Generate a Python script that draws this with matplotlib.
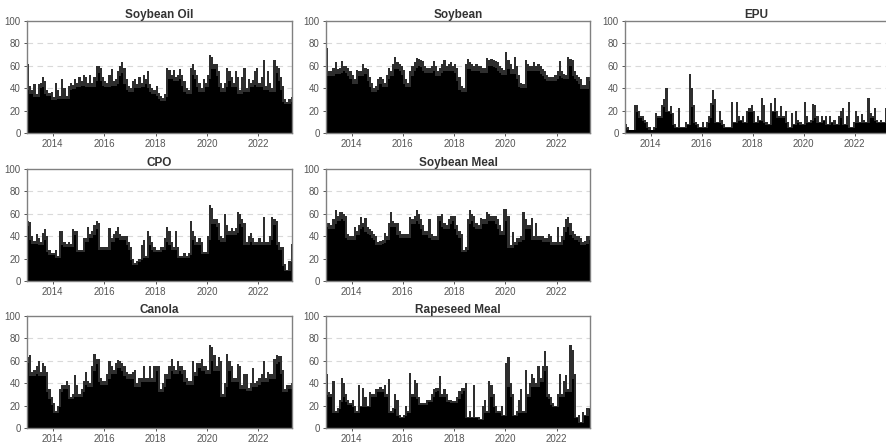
#!/usr/bin/env python3
"""Seven-panel filled time series, monthly index values 2013-2023."""

import matplotlib
matplotlib.use("Agg")
import matplotlib.pyplot as plt
import numpy as np

plt.rcParams["font.family"] = ["Liberation Sans", "DejaVu Sans"]

START_YEAR = 2013

soybean_oil = [
    62, 42, 38, 44, 35, 44, 45, 50, 46, 38, 36, 37,
    32, 45, 38, 33, 48, 40, 33, 42, 45, 43, 48, 45,
    50, 46, 52, 50, 45, 52, 45, 50, 60, 60, 58, 50,
    46, 45, 52, 57, 46, 48, 55, 60, 63, 58, 48, 42,
    40, 46, 48, 44, 50, 45, 52, 48, 55, 44, 40, 38,
    42, 36, 33, 31, 35, 58, 56, 52, 56, 50, 52, 57,
    52, 46, 40, 38, 58, 62, 56, 52, 45, 40, 48, 45,
    52, 70, 68, 62, 62, 55, 45, 40, 45, 58, 55, 50,
    45, 55, 50, 38, 50, 58, 40, 48, 45, 47, 55, 58,
    45, 50, 65, 42, 55, 45, 40, 65, 60, 58, 50, 42,
    30, 28, 30, 32,
]
soybean = [
    76, 55, 55, 58, 63, 57, 58, 64, 60, 60, 58, 55,
    52, 48, 56, 55, 55, 62, 58, 57, 50, 45, 40, 42,
    48, 50, 48, 45, 52, 58, 55, 62, 68, 63, 62, 60,
    56, 48, 45, 55, 60, 63, 67, 66, 65, 64, 60, 58,
    58, 60, 64, 60, 55, 58, 62, 65, 60, 62, 63, 60,
    62, 58, 50, 42, 40, 62, 66, 63, 62, 60, 62, 60,
    60, 58, 58, 67, 65, 66, 65, 64, 63, 60, 58, 56,
    72, 65, 62, 57, 68, 60, 52, 45, 44, 65, 62, 60,
    60, 63, 60, 62, 60, 57, 55, 52, 50, 50, 50, 52,
    55, 64, 55, 53, 52, 68, 66, 65, 55, 52, 50, 48,
    43, 43, 50, 50,
]
epu = [
    8, 5, 3, 3, 25, 25, 20, 15, 15, 12, 10, 5,
    3, 5, 18, 15, 15, 25, 30, 40, 20, 24, 18, 8,
    5, 22, 5, 5, 10, 8, 53, 40, 25, 10, 8, 5,
    10, 5, 10, 15, 27, 38, 30, 10, 20, 12, 8, 5,
    5, 5, 28, 10, 28, 15, 12, 15, 10, 20, 22, 25,
    20, 10, 15, 12, 31, 25, 10, 8, 27, 20, 31, 20,
    15, 24, 15, 20, 10, 5, 18, 8, 20, 12, 10, 8,
    28, 15, 10, 12, 26, 25, 15, 10, 15, 12, 15, 8,
    15, 10, 12, 8, 15, 20, 22, 8, 15, 28, 5, 10,
    20, 15, 10, 17, 12, 10, 31, 18, 15, 22, 12, 10,
    12, 10, 22, 12,
]
cpo = [
    54, 53, 40, 36, 42, 38, 35, 43, 46, 40, 28, 25,
    25, 28, 22, 45, 45, 35, 33, 35, 33, 46, 45, 45,
    28, 28, 38, 38, 48, 42, 45, 50, 54, 52, 30, 30,
    30, 30, 47, 38, 42, 45, 48, 42, 40, 40, 40, 35,
    30, 20, 16, 18, 20, 32, 37, 22, 45, 40, 35, 30,
    28, 28, 30, 30, 38, 48, 45, 35, 30, 45, 30, 22,
    22, 25, 22, 25, 54, 45, 40, 35, 38, 35, 26, 26,
    40, 68, 65, 55, 55, 52, 40, 38, 60, 50, 45, 47,
    45, 47, 62, 60, 55, 52, 35, 40, 43, 38, 35, 35,
    38, 35, 57, 35, 35, 40, 57, 55, 54, 35, 30, 30,
    15, 10, 18, 33,
]
soybean_meal = [
    52, 52, 50, 55, 63, 58, 62, 62, 60, 58, 42, 40,
    40, 48, 45, 50, 57, 52, 56, 48, 46, 45, 42, 40,
    35, 36, 37, 43, 40, 52, 62, 54, 52, 52, 45, 42,
    42, 42, 42, 57, 55, 58, 63, 60, 55, 50, 45, 45,
    55, 42, 40, 40, 58, 58, 60, 52, 50, 55, 58, 58,
    58, 50, 45, 42, 28, 30, 55, 63, 60, 58, 52, 50,
    56, 55, 55, 62, 60, 58, 58, 58, 55, 50, 45, 64,
    64, 58, 32, 44, 35, 38, 38, 40, 62, 55, 50, 50,
    56, 40, 52, 40, 40, 40, 38, 38, 42, 40, 35, 35,
    48, 35, 40, 48, 55, 57, 52, 45, 42, 40, 40, 38,
    35, 36, 40, 40,
]
canola = [
    63, 65, 50, 52, 55, 60, 50, 58, 55, 50, 35, 28,
    22, 15, 20, 35, 38, 38, 42, 38, 28, 30, 47, 38,
    30, 35, 42, 50, 42, 40, 55, 66, 62, 62, 45, 42,
    42, 48, 60, 55, 52, 58, 61, 60, 58, 55, 50, 48,
    48, 50, 52, 40, 45, 45, 55, 45, 45, 55, 45, 55,
    55, 55, 35, 40, 48, 48, 55, 62, 55, 52, 60, 55,
    55, 52, 45, 42, 42, 60, 50, 58, 58, 62, 55, 55,
    52, 74, 72, 65, 55, 63, 60, 30, 40, 66, 60, 55,
    45, 45, 57, 55, 38, 48, 48, 36, 40, 54, 40, 42,
    45, 48, 60, 45, 50, 48, 48, 62, 65, 64, 64, 52,
    35, 38, 38, 40,
]
rapeseed_meal = [
    48, 32, 30, 42, 15, 18, 25, 45, 40, 30, 25, 22,
    25, 20, 15, 38, 20, 36, 28, 20, 32, 30, 30, 35,
    35, 37, 35, 38, 30, 44, 15, 18, 30, 25, 12, 10,
    12, 20, 15, 49, 30, 43, 40, 28, 22, 22, 22, 25,
    25, 30, 35, 36, 36, 46, 30, 35, 30, 25, 25, 24,
    24, 28, 33, 36, 36, 40, 10, 15, 10, 38, 10, 10,
    8, 20, 25, 15, 42, 38, 30, 20, 15, 15, 20, 12,
    58, 63, 40, 30, 12, 15, 25, 35, 15, 52, 30, 40,
    48, 45, 40, 55, 45, 55, 69, 55, 30, 28, 22, 20,
    30, 48, 30, 42, 47, 35, 74, 70, 48, 10, 12, 5,
    14, 12, 18, 18,
]

titles = ["Soybean Oil", "Soybean", "EPU", "CPO", "Soybean Meal", "Canola", "Rapeseed Meal"]
series = [soybean_oil, soybean, epu, cpo, soybean_meal, canola, rapeseed_meal]
grid_slots = [(0, 0), (0, 1), (0, 2), (1, 0), (1, 1), (2, 0), (2, 1)]

W, H = 887, 446
COL_LEFT = [27, 326, 625]
COL_RIGHT = [292, 590, 888]
ROW_TOP = [21, 169, 316]
ROW_BOTTOM = [133, 281, 428]

fig = plt.figure(figsize=(W / 100, H / 100), dpi=100)

for title, values, (r, c) in zip(titles, series, grid_slots):
    rect = [
        COL_LEFT[c] / W,
        1 - ROW_BOTTOM[r] / H,
        (COL_RIGHT[c] - COL_LEFT[c]) / W,
        (ROW_BOTTOM[r] - ROW_TOP[r]) / H,
    ]
    ax = fig.add_axes(rect)
    v = np.asarray(values, dtype=float)
    t = START_YEAR + np.arange(len(v)) / 12
    # lower solid band: local minimum of neighbouring months
    lo = np.minimum(v, np.minimum(np.roll(v, 1), np.roll(v, -1)))
    lo[0], lo[-1] = min(v[0], v[1]), min(v[-1], v[-2])
    ax.bar(t, v, width=1 / 12, align="edge", color="#2e2e2e", linewidth=0)
    ax.bar(t, lo * 0.92, width=1 / 12, align="edge", color="black", linewidth=0)

    ax.set_xlim(START_YEAR, START_YEAR + len(v) / 12 - 0.03)
    ax.set_ylim(0, 100)
    ax.set_yticks([0, 20, 40, 60, 80, 100])
    ax.set_xticks([2014, 2016, 2018, 2020, 2022])
    for y in [20, 40, 60, 80]:
        ax.axhline(y, color="#d9d9d9", linewidth=0.8, linestyle=(0, (5, 4)), zorder=0)
    ax.set_axisbelow(True)
    ax.tick_params(labelsize=7, colors="#555555", length=2.5, width=0.7, pad=2)
    for s in ax.spines.values():
        s.set_color("#808080")
        s.set_linewidth(1.0)
    ax.set_title(title, fontsize=8.5, fontweight="bold", color="#333333", pad=2)

fig.savefig("out.png", dpi=100)
